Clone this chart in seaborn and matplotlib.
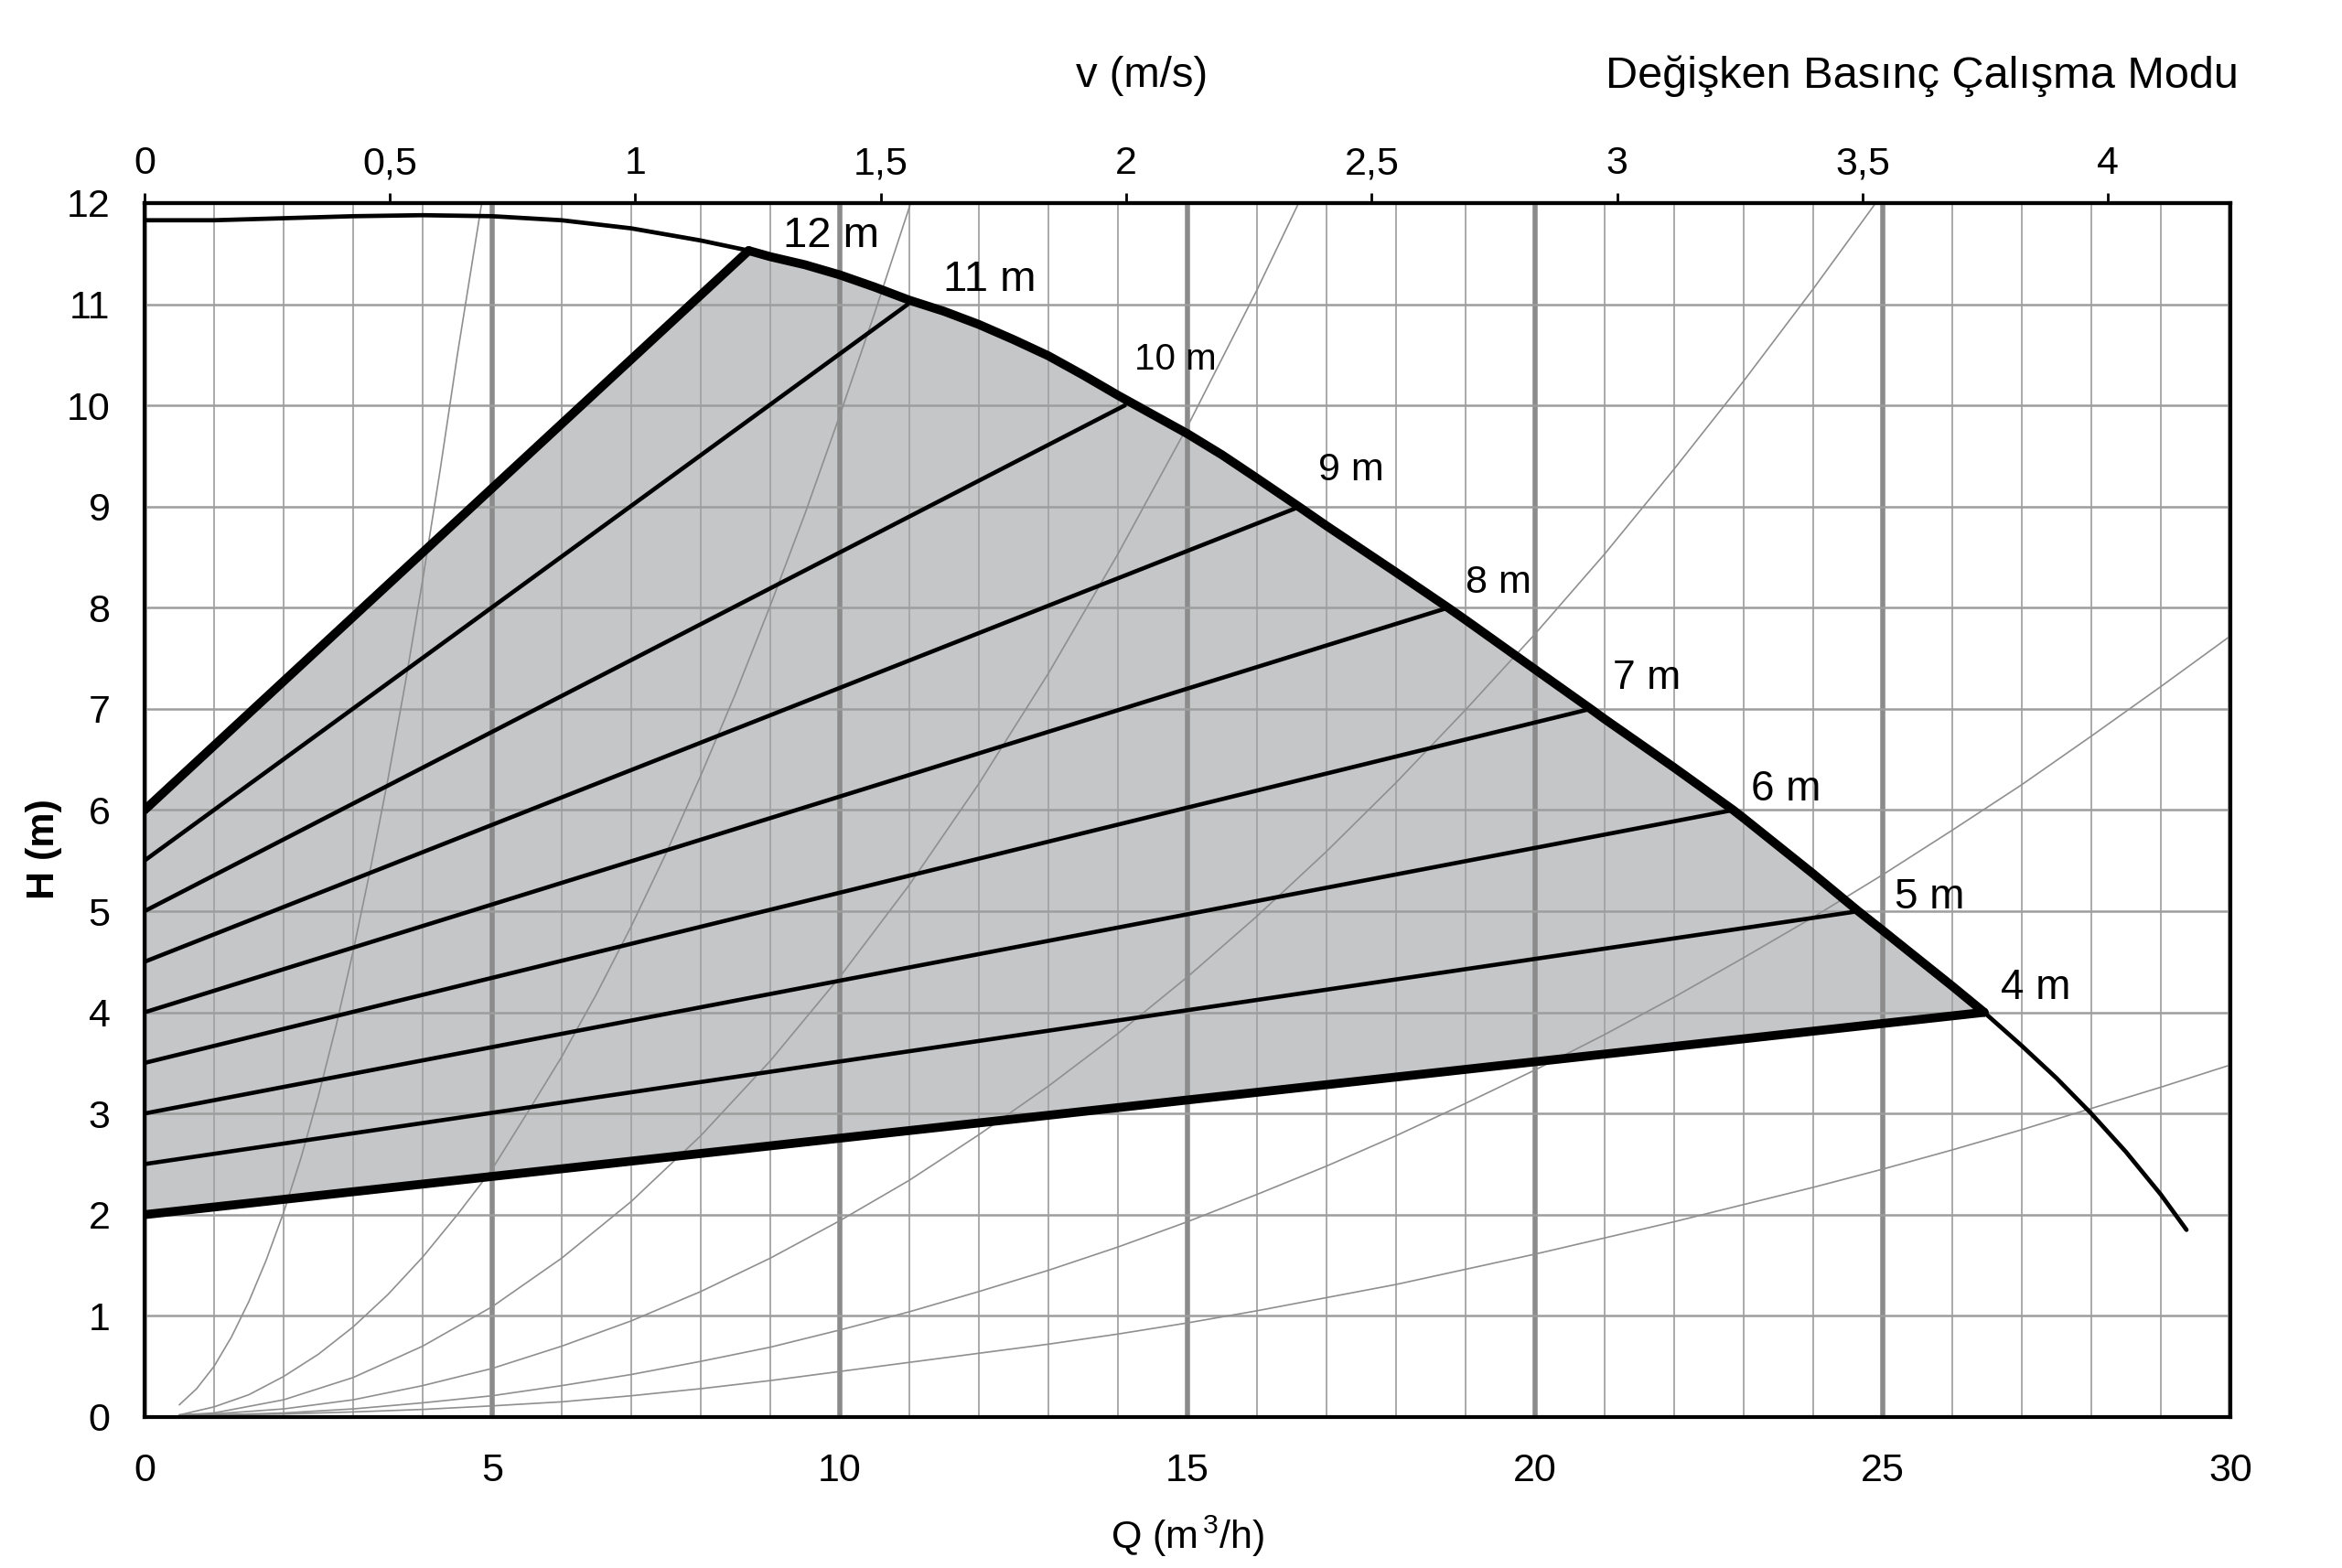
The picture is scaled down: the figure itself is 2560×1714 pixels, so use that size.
import numpy as np
import matplotlib
matplotlib.use("Agg")
import matplotlib.pyplot as plt
from matplotlib.ticker import MultipleLocator
import seaborn as sns

# max pump curve, Q (m3/h) / H (m)
max_q = [0, 1, 2, 3, 4, 5, 6, 7, 8, 8.69, 9, 9.5, 10, 10.5, 11, 11.5, 12, 12.5, 13,
         13.5, 14, 14.5, 15, 15.5, 16, 16.6, 17, 18, 18.75, 19, 20, 20.8, 21, 22,
         22.85, 23, 24, 24.65, 25, 26, 26.46, 27, 27.5, 28, 28.5, 29, 29.37]
max_h = [11.83, 11.83, 11.85, 11.87, 11.88, 11.87, 11.83, 11.75, 11.63, 11.53, 11.47,
         11.39, 11.29, 11.17, 11.04, 10.93, 10.8, 10.65, 10.49, 10.3, 10.1, 9.91,
         9.72, 9.51, 9.28, 9.0, 8.81, 8.35, 8.0, 7.88, 7.39, 7.0, 6.9, 6.42, 6.0, 5.92,
         5.37, 5.0, 4.81, 4.26, 4.0, 3.67, 3.35, 3.0, 2.62, 2.2, 1.85]

# variable pressure set points
level_names = ["12 m", "11 m", "10 m", "9 m", "8 m", "7 m", "6 m", "5 m", "4 m"]
line_h0 = [6, 5.5, 5, 4.5, 4, 3.5, 3, 2.5, 2]
line_q1 = [8.69, 10.98, 14.1, 16.62, 18.75, 20.8, 22.85, 24.65, 26.46]
line_h1 = [11.53, 11.0, 10.0, 9.0, 8.0, 7.0, 6.0, 5.0, 4.0]
label_q = [9.18, 11.49, 14.24, 16.88, 19.0, 21.12, 23.1, 25.17, 26.7]
label_h = [11.67, 11.24, 10.45, 9.36, 8.25, 7.30, 6.20, 5.14, 4.24]
label_size = [34, 34, 29, 31, 31, 32, 33, 33, 33]

# system curves
sys_q_a = [0.5, 0.75, 1, 1.25, 1.5, 1.75, 2, 2.25, 2.5, 2.75, 3, 3.25, 3.5, 3.75, 4,
           4.25, 4.5, 4.85]
sys_h_a = [0.12, 0.28, 0.5, 0.79, 1.14, 1.55, 2.02, 2.56, 3.17, 3.85, 4.6, 5.42, 6.3,
           7.25, 8.27, 9.35, 10.5, 12.0]
sys_q_b = [0.5, 1, 1.5, 2, 2.5, 3, 3.5, 4, 4.5, 5, 5.5, 6, 6.5, 7, 7.5, 8, 8.5, 9,
           9.5, 10, 10.5, 11.02]
sys_h_b = [0.02, 0.1, 0.22, 0.4, 0.62, 0.89, 1.21, 1.58, 2.0, 2.45, 3.0, 3.56, 4.18,
           4.85, 5.57, 6.34, 7.15, 8.02, 8.93, 9.9, 10.91, 12.0]
sys_q_c = [0.5, 1, 2, 3, 4, 5, 6, 7, 8, 9, 10, 11, 12, 13, 14, 15, 16, 16.6]
sys_h_c = [0.02, 0.04, 0.17, 0.39, 0.7, 1.09, 1.57, 2.13, 2.78, 3.52, 4.35, 5.26, 6.26,
           7.35, 8.53, 9.79, 11.14, 12.0]
sys_q_d = [0.5, 1, 2, 3, 4, 5, 6, 7, 8, 9, 10, 11, 12, 13, 14, 15, 16, 17, 18, 19,
           20, 21, 22, 23, 24, 24.9]
sys_h_d = [0.02, 0.03, 0.08, 0.17, 0.31, 0.48, 0.7, 0.95, 1.24, 1.57, 1.94, 2.34, 2.79,
           3.27, 3.79, 4.35, 4.95, 5.59, 6.27, 6.99, 7.74, 8.53, 9.37, 10.24, 11.15, 12.0]
sys_q_e = [0.5, 1, 2, 3, 4, 5, 6, 7, 8, 9, 10, 11, 12, 13, 14, 15, 16, 17, 18, 19,
           20, 21, 22, 23, 24, 25, 26, 27, 28, 29, 30]
sys_h_e = [0.02, 0.02, 0.04, 0.08, 0.14, 0.21, 0.31, 0.42, 0.55, 0.69, 0.86, 1.04,
           1.24, 1.45, 1.68, 1.93, 2.2, 2.48, 2.78, 3.1, 3.43, 3.78, 4.15, 4.54, 4.94,
           5.36, 5.8, 6.25, 6.73, 7.22, 7.72]
sys_q_f = [0.5, 1, 2, 3, 4, 5, 6, 7, 8, 9, 10, 11, 12, 13, 14, 15, 16, 17, 18, 19,
           20, 21, 22, 23, 24, 25, 26, 27, 28, 29, 30]
sys_h_f = [0.02, 0.02, 0.03, 0.05, 0.075, 0.11, 0.15, 0.21, 0.28, 0.36, 0.45, 0.54,
           0.63, 0.72, 0.82, 0.93, 1.05, 1.18, 1.31, 1.46, 1.61, 1.77, 1.93, 2.1, 2.27,
           2.45, 2.64, 2.84, 3.05, 3.26, 3.48]

# top axis: flow velocity
v_ticks = [0, 0.5, 1, 1.5, 2, 2.5, 3, 3.5, 4]
v_labels = ["0", "0,5", "1", "1,5", "2", "2,5", "3", "3,5", "4"]
v_factor = 7.06  # m3/h per m/s

sns.set_theme(style="white", rc={
    "axes.edgecolor": "black", "text.color": "black", "axes.labelcolor": "black",
    "xtick.color": "black", "ytick.color": "black"})
plt.rcParams["font.family"] = ["Liberation Sans", "DejaVu Sans"]
plt.rcParams["mathtext.default"] = "regular"

fig = plt.figure(figsize=(25.6, 17.14), dpi=100)
ax = fig.add_axes([0.0617, 0.0963, 0.8906, 0.7742])

# shaded operating area
mq = np.array(max_q)
mh = np.array(max_h)
on_curve = (mq >= line_q1[0]) & (mq <= line_q1[-1])
poly_q = np.concatenate([[0, 0], mq[on_curve]])
poly_h = np.concatenate([[line_h0[-1], line_h0[0]], mh[on_curve]])
ax.fill(poly_q, poly_h, color="#c5c6c8", lw=0, zorder=0.3)

for q, h in [(sys_q_a, sys_h_a), (sys_q_b, sys_h_b), (sys_q_c, sys_h_c),
             (sys_q_d, sys_h_d), (sys_q_e, sys_h_e), (sys_q_f, sys_h_f)]:
    sns.lineplot(x=q, y=h, ax=ax, color="#8f8f8f", lw=1.2, sort=False,
                 estimator=None, zorder=2)

for i in range(len(level_names)):
    thick = i == 0 or i == len(level_names) - 1
    sns.lineplot(x=[0, line_q1[i]], y=[line_h0[i], line_h1[i]], ax=ax, color="black",
                 lw=7 if thick else 3.3, sort=False, estimator=None, zorder=4)
    ax.text(label_q[i], label_h[i], level_names[i], ha="left", va="center",
            fontsize=label_size[i], zorder=6)

sns.lineplot(x=max_q, y=max_h, ax=ax, color="black", lw=3.4, sort=False,
             estimator=None, zorder=4)
sns.lineplot(x=mq[on_curve], y=mh[on_curve], ax=ax, color="black", lw=7,
             sort=False, estimator=None, zorder=5)

ax.set_xlim(0, 30)
ax.set_ylim(0, 12)
ax.xaxis.set_major_locator(MultipleLocator(5))
ax.xaxis.set_minor_locator(MultipleLocator(1))
ax.yaxis.set_major_locator(MultipleLocator(1))
ax.set_axisbelow(True)
ax.grid(which="minor", axis="x", color="#a3a3a3", lw=1.3)
ax.grid(which="major", axis="x", color="#8b8b8b", lw=4)
ax.grid(which="major", axis="y", color="#9d9d9d", lw=1.8)
ax.tick_params(axis="both", which="both", length=0)
ax.tick_params(axis="x", pad=28, labelsize=31)
ax.tick_params(axis="y", pad=27, labelsize=31)
for s in ax.spines.values():
    s.set_linewidth(3)
    s.set_color("black")
    s.set_zorder(7)

sec = ax.secondary_xaxis("top", functions=(lambda q: q / v_factor, lambda v: v * v_factor))
sec.set_xticks(v_ticks)
sec.set_xticklabels(v_labels)
sec.tick_params(length=8, width=2, pad=8.5, labelsize=31, direction="out", color="black")
sec.spines["top"].set_linewidth(3)

ax.set_xlabel(r"Q (m$^{\,3}$/h)", fontsize=31)
ax.xaxis.set_label_coords(0.5, -0.098)
ax.xaxis.label.set_verticalalignment("center")
ax.set_ylabel("H (m)", fontsize=31, fontweight="bold")
ax.yaxis.set_label_coords(-0.0482, 0.468)
ax.yaxis.label.set_verticalalignment("center")
ax.yaxis.label.set_horizontalalignment("center")

ax.text(0.478, 1.105, "v (m/s)", transform=ax.transAxes, ha="center", va="center",
        fontsize=34)
ax.text(1.004, 1.095, "Değişken Basınç Çalışma Modu", transform=ax.transAxes,
        ha="right", va="baseline", fontsize=35)

fig.savefig("out.png", dpi=100)
